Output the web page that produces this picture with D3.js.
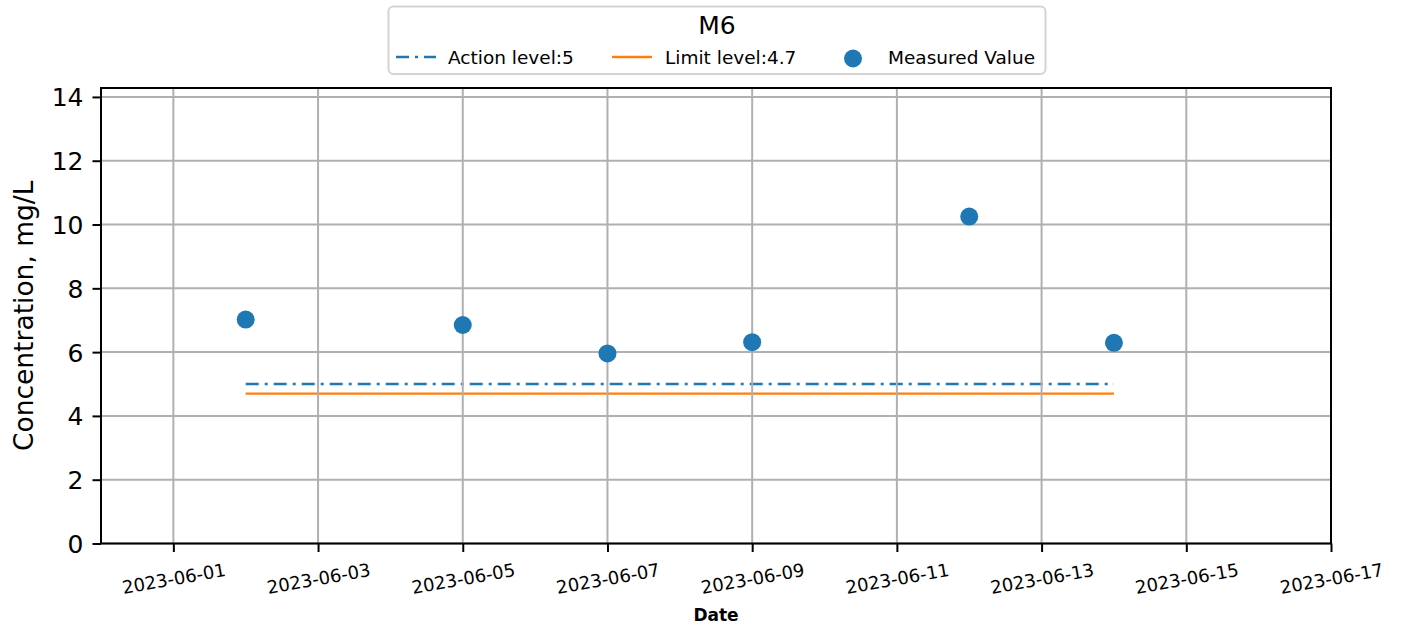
<!DOCTYPE html>
<html>
<head>
<meta charset="utf-8">
<script src="https://cdn.jsdelivr.net/npm/d3@7"></script>
<style>
  html, body { margin: 0; padding: 0; background: #fff; }
  svg { display: block; font-family: "DejaVu Sans", sans-serif; }
  svg text { font-family: "DejaVu Sans", sans-serif; }
</style>
</head>
<body>
<svg id="chart" width="1407" height="634"></svg>
<script>
const dates = ["2023-06-02", "2023-06-05", "2023-06-07", "2023-06-09", "2023-06-12", "2023-06-14"];
const measured = [7.02, 6.85, 5.96, 6.31, 10.25, 6.29];
const actionLevel = 5;
const limitLevel = 4.7;
const xTicks = ["2023-06-01", "2023-06-03", "2023-06-05", "2023-06-07", "2023-06-09", "2023-06-11", "2023-06-13", "2023-06-15", "2023-06-17"];
const yTicks = [0, 2, 4, 6, 8, 10, 12, 14];
const xDomain = ["2023-05-31", "2023-06-17"];
const yDomain = [0, 14.28];
const title = "M6";
const legendLabels = ["Action level:5", "Limit level:4.7", "Measured Value"];

const parse = d3.utcParse("%Y-%m-%d");
const fmt = d3.utcFormat("%Y-%m-%d");
const blue = "#1f77b4", orange = "#ff7f0e", gridColor = "#b0b0b0";
const FONT = "DejaVu Sans, sans-serif";

const L = 101, R = 1331, T = 88, B = 543.5;
const svg = d3.select("#chart");
const x = d3.scaleUtc().domain(xDomain.map(parse)).range([L, R]);
const y = d3.scaleLinear().domain(yDomain).range([B, T]);

// lines
const lineG = svg.append("g");
const lineGen = d3.line().x(d => x(d[0])).y(d => y(d[1]));
const first = parse(dates[0]), last = parse(dates[dates.length - 1]);
lineG.append("path").attr("d", lineGen([[first, actionLevel], [last, actionLevel]]))
  .attr("stroke", blue).attr("stroke-width", 2.4).attr("fill", "none")
  .attr("stroke-dasharray", "13,6,3,6");
lineG.append("path").attr("d", lineGen([[first, limitLevel], [last, limitLevel]]))
  .attr("stroke", orange).attr("stroke-width", 2.4).attr("fill", "none");

// grid
const grid = svg.append("g");
grid.selectAll("line.gx").data(xTicks.map(parse)).join("line")
  .attr("x1", d => x(d)).attr("x2", d => x(d)).attr("y1", T).attr("y2", B)
  .attr("stroke", gridColor).attr("stroke-width", 2);
grid.selectAll("line.gy").data(yTicks).join("line")
  .attr("x1", L).attr("x2", R).attr("y1", d => y(d)).attr("y2", d => y(d))
  .attr("stroke", gridColor).attr("stroke-width", 2);

svg.append("g").selectAll("circle").data(dates.map((d, i) => [parse(d), measured[i]])).join("circle")
  .attr("cx", d => x(d[0])).attr("cy", d => y(d[1])).attr("r", 9).attr("fill", blue);

// axes
const xAxis = d3.axisBottom(x).tickValues(xTicks.map(parse)).tickFormat(fmt).tickSize(8.5).tickSizeOuter(0).tickPadding(6);
const gx = svg.append("g").attr("transform", `translate(0,${B})`).call(xAxis)
  .attr("font-family", FONT);
gx.select(".domain").remove();
gx.selectAll(".tick line").attr("stroke", "#000").attr("stroke-width", 2);
gx.selectAll(".tick text").attr("font-size", 18).attr("font-family", FONT).attr("fill", "#000")
  .attr("text-anchor", "middle").attr("dominant-baseline", "central")
  .attr("y", 0).attr("dy", 0)
  .attr("transform", "translate(0,35) rotate(-10)");

const yAxis = d3.axisLeft(y).tickValues(yTicks).tickFormat(d3.format("d")).tickSize(8.5).tickSizeOuter(0).tickPadding(9);
const gy = svg.append("g").attr("transform", `translate(${L},0)`).call(yAxis)
  .attr("font-family", FONT);
gy.select(".domain").remove();
gy.selectAll(".tick line").attr("stroke", "#000").attr("stroke-width", 2);
gy.selectAll(".tick text").attr("font-size", 25).attr("font-family", FONT).attr("fill", "#000").attr("dy", "0.36em");

svg.append("rect").attr("x", L).attr("y", T).attr("width", R - L).attr("height", B - T)
  .attr("fill", "none").attr("stroke", "#000").attr("stroke-width", 2);

// axis labels
svg.append("text").attr("transform", `translate(33,${(T + B) / 2}) rotate(-90)`)
  .attr("text-anchor", "middle").attr("font-size", 26.5).attr("fill", "#000")
  .text("Concentration, mg/L");
svg.append("text").attr("x", (L + R) / 2).attr("y", 621).attr("text-anchor", "middle")
  .attr("font-size", 17).attr("font-weight", "bold").attr("fill", "#000").text("Date");

// legend
const lg = svg.append("g");
lg.append("rect").attr("x", 388.5).attr("y", 6.5).attr("width", 657).attr("height", 67.5)
  .attr("rx", 5).attr("fill", "#fff").attr("fill-opacity", 0.8)
  .attr("stroke", "#d4d4d4").attr("stroke-width", 2);
lg.append("text").attr("x", 717).attr("y", 34).attr("text-anchor", "middle")
  .attr("font-size", 25).attr("fill", "#000").text(title);
lg.append("line").attr("x1", 396).attr("x2", 436).attr("y1", 57).attr("y2", 57)
  .attr("stroke", blue).attr("stroke-width", 2.4).attr("stroke-dasharray", "13,6,3,6");
lg.append("line").attr("x1", 612).attr("x2", 652).attr("y1", 57).attr("y2", 57)
  .attr("stroke", orange).attr("stroke-width", 2.4);
lg.append("circle").attr("cx", 853).attr("cy", 58.5).attr("r", 9).attr("fill", blue);
const lx = [448, 665, 888];
lg.selectAll("text.item").data(legendLabels).join("text").attr("class", "item")
  .attr("x", (d, i) => lx[i]).attr("y", 63.5).attr("font-size", 18.5).attr("fill", "#000").text(d => d);
</script>
</body>
</html>
